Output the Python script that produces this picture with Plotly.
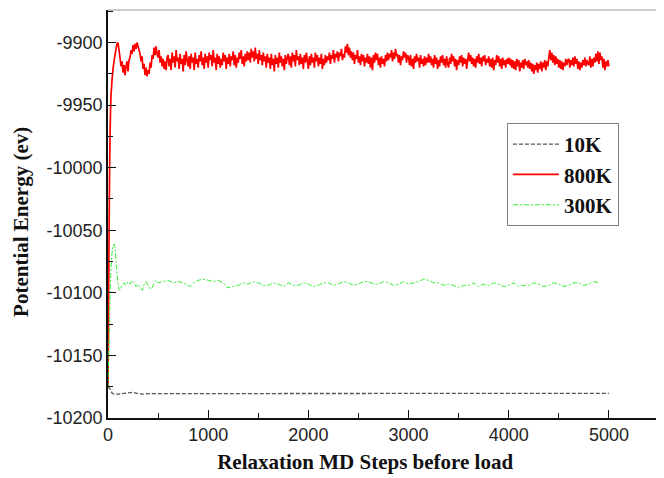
import plotly.graph_objects as go

# ---------------- data ----------------
series_names = ["10K", "800K", "300K"]

# 10K
steps_10k = [0, 20, 40, 60, 100, 150, 200, 250, 300, 350, 400, 500, 600, 700, 800, 900,
             1000, 1200, 1400, 1600, 1800, 2000, 2200, 2400, 2600, 2800, 3000, 3200,
             3400, 3600, 3800, 4000, 4200, 4400, 4600, 4800, 5000]
energy_10k = [-10175, -10177, -10180, -10181, -10181, -10180.5, -10180, -10179.5, -10180.5,
              -10181, -10180.5, -10180.5, -10180.3, -10180.5, -10180.2, -10180.4,
              -10180.2, -10180.3, -10180.1, -10180.2, -10180, -10180.1, -10180, -10180.2,
              -10180.1, -10180.3, -10180.2, -10180.4, -10180.3, -10180.2, -10180.4,
              -10180.3, -10180.2, -10180.4, -10180.3, -10180.2, -10180.3]

# 800K : early relaxation part
steps_800_early = [0, 5, 10, 15, 20, 25, 30, 40, 50, 60, 70, 80, 90, 100, 110, 120, 130, 140,
                   150, 160, 170, 180, 190, 200, 210, 220, 230, 240, 250, 260, 270, 280, 290,
                   300, 310, 320, 330, 340, 350, 360, 370, 380, 390, 400, 410, 420, 430, 440,
                   450, 460, 470, 480, 490, 500, 510, 520, 530, 540, 550, 560, 570, 580, 590]
energy_800_early = [-10176, -10120, -10060, -10010, -9975, -9955, -9942, -9930, -9921, -9915,
                    -9910, -9905, -9901, -9900, -9906, -9912, -9919, -9915, -9924, -9918,
                    -9926, -9919, -9915, -9923, -9914, -9912, -9906, -9909, -9902, -9907,
                    -9901, -9905, -9900, -9903, -9906, -9909, -9915, -9911, -9921, -9917,
                    -9926, -9920, -9927, -9922, -9925, -9916, -9920, -9910, -9913, -9904,
                    -9910, -9903, -9909, -9912, -9906, -9916, -9911, -9919, -9913, -9921,
                    -9915, -9922, -9912]
# 800K : steady part, every 10 steps from 600 to 5000
steps_800_late = list(range(600, 5001, 10))
energy_800_late = [
    -9910, -9919, -9913, -9922, -9908, -9916, -9911, -9920, -9906, -9915, -9912, -9921, -9909, -9917, -9913, -9923, -9910, -9918, -9907, -9914,
    -9919, -9911, -9921, -9909, -9916, -9912, -9922, -9908, -9917, -9913, -9920, -9910, -9915, -9907, -9918, -9912, -9921, -9909, -9916, -9911,
    -9920, -9908, -9914, -9910, -9919, -9906, -9916, -9912, -9922, -9909, -9917, -9911, -9920, -9913, -9918, -9908, -9915, -9910, -9921, -9912,
    -9917, -9909, -9919, -9911, -9914, -9907, -9918, -9910, -9920, -9912, -9916, -9908, -9913, -9906, -9917, -9911, -9919, -9909, -9915, -9907,
    -9914, -9908, -9916, -9905, -9912, -9907, -9915, -9904, -9913, -9909, -9917, -9906, -9914, -9910, -9918, -9908, -9915, -9911, -9920, -9909,
    -9916, -9912, -9921, -9909, -9918, -9913, -9923, -9910, -9917, -9912, -9920, -9908, -9916, -9911, -9919, -9913, -9922, -9910, -9917, -9912,
    -9909, -9918, -9911, -9920, -9908, -9915, -9910, -9919, -9906, -9914, -9911, -9918, -9909, -9917, -9912, -9921, -9910, -9916, -9908, -9915,
    -9921, -9911, -9918, -9909, -9916, -9912, -9920, -9908, -9915, -9910, -9919, -9912, -9917, -9909, -9921, -9913, -9918, -9910, -9916, -9911,
    -9914, -9908, -9917, -9910, -9913, -9906, -9916, -9909, -9912, -9907, -9915, -9908, -9911, -9905, -9914, -9909, -9912, -9903, -9908, -9901,
    -9910, -9904, -9912, -9907, -9914, -9908, -9917, -9910, -9913, -9906, -9916, -9911, -9918, -9909, -9915, -9910, -9919, -9912, -9916, -9909,
    -9917, -9911, -9920, -9912, -9922, -9910, -9916, -9908, -9914, -9909, -9918, -9912, -9920, -9911, -9917, -9913, -9919, -9910, -9915, -9908,
    -9914, -9909, -9912, -9906, -9915, -9908, -9913, -9905, -9911, -9909, -9916, -9910, -9918, -9911, -9914, -9907, -9912, -9908, -9916, -9910,
    -9912, -9918, -9910, -9919, -9913, -9921, -9911, -9916, -9909, -9915, -9912, -9920, -9910, -9917, -9913, -9919, -9911, -9918, -9912, -9916,
    -9909, -9916, -9911, -9918, -9913, -9920, -9910, -9917, -9912, -9921, -9914, -9919, -9911, -9916, -9910, -9918, -9913, -9920, -9911, -9917,
    -9920, -9912, -9917, -9909, -9915, -9911, -9919, -9913, -9922, -9914, -9918, -9911, -9916, -9910, -9919, -9912, -9917, -9913, -9921, -9914,
    -9908, -9915, -9910, -9917, -9912, -9919, -9913, -9920, -9911, -9916, -9909, -9917, -9912, -9919, -9911, -9915, -9910, -9918, -9913, -9916,
    -9911, -9919, -9913, -9920, -9912, -9922, -9914, -9918, -9910, -9916, -9911, -9919, -9913, -9921, -9912, -9918, -9914, -9920, -9913, -9917,
    -9912, -9918, -9913, -9920, -9914, -9921, -9915, -9922, -9913, -9919, -9914, -9923, -9916, -9920, -9914, -9921, -9913, -9918, -9915, -9920,
    -9914, -9921, -9916, -9923, -9917, -9925, -9918, -9922, -9916, -9924, -9917, -9921, -9915, -9923, -9916, -9920, -9914, -9922, -9915, -9919,
    -9912, -9906, -9914, -9908, -9916, -9910, -9918, -9911, -9917, -9913, -9920, -9914, -9921, -9915, -9922, -9916, -9919, -9913, -9918, -9914,
    -9913, -9920, -9914, -9918, -9912, -9919, -9911, -9917, -9913, -9921, -9915, -9922, -9916, -9920, -9914, -9918, -9912, -9919, -9914, -9917,
    -9918, -9911, -9920, -9913, -9919, -9912, -9916, -9909, -9915, -9907, -9917, -9908, -9914, -9911, -9920, -9913, -9922, -9915, -9919, -9914,
    -9919]

# 300K
steps_300 = [0, 10, 20, 30, 40, 50, 60, 70, 80, 90, 100, 110, 120, 140, 160, 180, 200, 220,
             240, 260, 280, 300, 320, 340, 360, 380, 400, 420, 440, 460, 480, 500, 550, 600,
             650, 700, 750, 800, 820, 850, 900, 950, 1000, 1050, 1100, 1150, 1190, 1250,
             1300, 1350, 1400, 1450, 1500, 1550, 1600, 1650, 1700, 1750, 1800, 1850, 1900,
             1950, 2000, 2050, 2100, 2150, 2200, 2250, 2300, 2350, 2400, 2450, 2500, 2550,
             2600, 2650, 2700, 2750, 2800, 2850, 2900, 2950, 3000, 3050, 3100, 3150, 3200,
             3250, 3300, 3350, 3400, 3450, 3500, 3550, 3600, 3650, 3700, 3750, 3800, 3850,
             3900, 3950, 4000, 4050, 4100, 4150, 4200, 4250, 4300, 4350, 4400, 4450, 4500,
             4550, 4600, 4650, 4700, 4750, 4800, 4850, 4900, 4950, 5000]
energy_300 = [-10176, -10140, -10105, -10080, -10068, -10063, -10061, -10064, -10075, -10085,
              -10093, -10097, -10098, -10094, -10092, -10094, -10091, -10093, -10090, -10092,
              -10095, -10093, -10096, -10098, -10093, -10091, -10094, -10097, -10096, -10092,
              -10090, -10092, -10091, -10090, -10092, -10091, -10092, -10094, -10095, -10092,
              -10090, -10089, -10090, -10091, -10090, -10092, -10096, -10095,
              -10094, -10092, -10093, -10091, -10092, -10094, -10094, -10092, -10093, -10095,
              -10092, -10094, -10094, -10092, -10093, -10095, -10094, -10092, -10092, -10094,
              -10093, -10091, -10092, -10094, -10093, -10091, -10091, -10093, -10093, -10091,
              -10092, -10094, -10093, -10091, -10093, -10092, -10091, -10089, -10090, -10092,
              -10092, -10094, -10093, -10094, -10096, -10094, -10094, -10092, -10095, -10093,
              -10094, -10092, -10093, -10095, -10094, -10092, -10095, -10094, -10094, -10092,
              -10093, -10095, -10094, -10092, -10093, -10095, -10094, -10092, -10092, -10094,
              -10093, -10091, -10092]

x_ticks = [0, 1000, 2000, 3000, 4000, 5000]
x_tick_labels = ["0", "1000", "2000", "3000", "4000", "5000"]
y_ticks = [-10200, -10150, -10100, -10050, -10000, -9950, -9900]
y_tick_labels = ["-10200", "-10150", "-10100", "-10050", "-10000", "-9950", "-9900"]

x_title = "Relaxation MD Steps before load"
y_title = "Potential Energy (ev)"

# ---------------- figure ----------------
serif_bold = dict(family="Liberation Serif", size=21, color="#111111", weight="bold")

fig = go.Figure()
fig.add_trace(go.Scatter(x=steps_10k, y=energy_10k, mode="lines", name=series_names[0],
                         legendgroup="a",
                         line=dict(color="#555555", width=1.3, dash="4px,2px")))
fig.add_trace(go.Scatter(x=steps_800_early + steps_800_late,
                         y=energy_800_early + energy_800_late, mode="lines",
                         name=series_names[1], legendgroup="b",
                         line=dict(color="#ff0000", width=1.7, simplify=False)))
fig.add_trace(go.Scatter(x=steps_300, y=energy_300, mode="lines", name=series_names[2],
                         legendgroup="c",
                         line=dict(color="#33ee33", width=1, dash="5px,2px,2px,2px",
                                   simplify=False)))

axis_common = dict(
    showline=True, linecolor="#111111", linewidth=1.5, mirror=False,
    ticks="inside", ticklen=8, tickwidth=1.2, tickcolor="#111111",
    showgrid=False, zeroline=False, automargin=False,
    tickfont=dict(family="Liberation Sans", size=18, color="#222222"),
)

# the page body has an 8px default margin, so the figure is sized/margined to compensate
fig.update_layout(
    width=656, height=470,
    margin=dict(l=100, r=5, t=2, b=60),
    paper_bgcolor="white", plot_bgcolor="white",
    showlegend=True,
    legend=dict(x=0.724, y=0.723, xanchor="left", yanchor="top",
                bordercolor="#808080", borderwidth=1, bgcolor="white",
                font=serif_bold, tracegroupgap=0, traceorder="grouped",
                itemwidth=46),
    xaxis=dict(range=[0, 5500], tickvals=x_ticks, ticktext=x_tick_labels,
               minor=dict(ticks="inside", ticklen=5, dtick=500, tick0=0,
                          tickcolor="#111111", tickwidth=1.2),
               title=dict(text=x_title + "&nbsp;" * 7, font=serif_bold, standoff=10),
               **axis_common),
    yaxis=dict(range=[-10200, -9874], tickvals=y_ticks, ticktext=y_tick_labels,
               minor=dict(ticks="inside", ticklen=5, dtick=25, tick0=-10200,
                          tickcolor="#111111", tickwidth=1.2),
               title=dict(text=y_title + "&nbsp;" * 3, font=serif_bold, standoff=12),
               **axis_common),
    shapes=[
        dict(type="line", xref="paper", yref="paper", x0=0, x1=1, y0=1, y1=1,
             line=dict(color="#9a9a9a", width=1)),
        dict(type="line", xref="paper", yref="paper", x0=1, x1=1, y0=0, y1=1,
             line=dict(color="#9a9a9a", width=1)),
    ],
)

fig.write_html("out.html")
